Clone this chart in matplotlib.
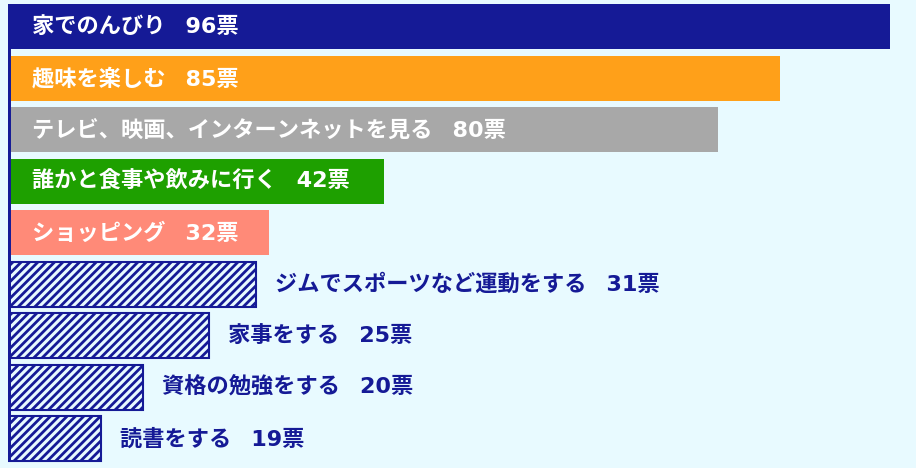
import matplotlib
matplotlib.use('Agg')
import matplotlib.pyplot as plt

plt.rcParams['font.family'] = ['DejaVu Sans', 'Noto Sans CJK JP']
plt.rcParams['hatch.linewidth'] = 2.0
plt.rcParams['hatch.color'] = '#151A96'

# data
activities = ['家でのんびり', '趣味を楽しむ', 'テレビ、映画、インターンネットを見る',
              '誰かと食事や飲みに行く', 'ショッピング', 'ジムでスポーツなど運動をする',
              '家事をする', '資格の勉強をする', '読書をする']
votes = [96, 85, 80, 42, 32, 31, 25, 20, 19]
# the bars in the picture are not drawn to scale, so keep their lengths apart
bar_len = [96, 84.0, 77.3, 40.9, 28.4, 27.0, 21.9, 14.7, 10.1]
colors = ['#151A96', '#FFA019', '#A8A8A8', '#1EA000', '#FF8A78',
          None, None, None, None]

navy = '#151A96'
bg = '#E8FAFF'

fig = plt.figure(figsize=(9.16, 4.68), dpi=100)
fig.patch.set_facecolor(bg)
ax = fig.add_axes([8 / 916, 0, 1 - 8 / 916, 1])
ax.set_facecolor(bg)

px = 882 / 96  # pixels per unit of bar length
ax.set_xlim(0, 908 / px)
ax.set_ylim(8.567, -0.52)

for i, (name, v, L, c) in enumerate(zip(activities, votes, bar_len, colors)):
    if c is not None:
        ax.barh(i, L, height=0.874, color=c, edgecolor='none', zorder=2)
        ax.annotate(f'{name}  \u2009{v}票', (0, i), xytext=(24, 0),
                    textcoords='offset pixels', va='center', ha='left',
                    color='white', fontsize=16, fontweight='bold', zorder=4)
    else:
        ax.barh(i, L, height=0.874, color=bg, edgecolor=navy, hatch='////',
                linewidth=1.5, zorder=2)
        ax.annotate(f'{name}  \u2009{v}票', (L, i), xytext=(19, 0),
                    textcoords='offset pixels', va='center', ha='left',
                    color=navy, fontsize=16, fontweight='bold', zorder=4)

# thick left axis line
ax.vlines(0, -0.44, 8.44, color=navy, linewidth=4.3, zorder=3)

ax.set_xticks([])
ax.set_yticks([])
for s in ax.spines.values():
    s.set_visible(False)

fig.savefig('out.png', dpi=100, facecolor=bg)
